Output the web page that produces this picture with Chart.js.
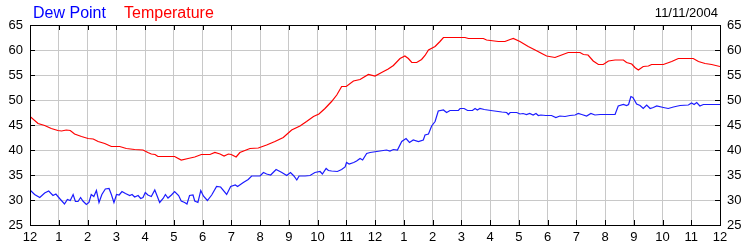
<!DOCTYPE html>
<html>
<head>
<meta charset="utf-8">
<script src="https://cdn.jsdelivr.net/npm/chart.js@4/dist/chart.umd.min.js"></script>
<style>
  body { margin: 0; background: #fff; }
  #wrap { width: 750px; height: 250px; }
</style>
</head>
<body>
<div id="wrap"><canvas id="chart" width="750" height="250"></canvas></div>
<script>
const title = "11/11/2004";
const seriesNames = ["Dew Point", "Temperature"];
const hourTicks = [12, 1, 2, 3, 4, 5, 6, 7, 8, 9, 10, 11, 12, 1, 2, 3, 4, 5, 6, 7, 8, 9, 10, 11, 12];

// temperature, hours since midnight
const tempHours = [0, 0.28, 0.51, 0.74, 0.97, 1.1, 1.26, 1.4, 1.55, 1.79, 2.02, 2.2, 2.37, 2.6, 2.83, 3.12, 3.35, 3.64, 3.93, 4.1,
  4.22, 4.35, 4.45, 5.03, 5.26, 5.5, 5.73, 5.96, 6.26, 6.43, 6.61, 6.75, 6.9, 7.0, 7.17, 7.3, 7.65, 7.94, 8.23, 8.52,
  8.81, 9.1, 9.39, 9.62, 9.86, 10.05, 10.26, 10.49, 10.67, 10.84, 11.0, 11.25, 11.48, 11.77, 12.0, 12.23, 12.46, 12.64, 12.87, 13.04,
  13.16, 13.28, 13.45, 13.62, 13.74, 13.86, 14.09, 14.26, 14.38, 15.13, 15.25, 15.77, 15.88, 16.29, 16.52, 16.7, 16.81, 17.04, 17.33, 17.57,
  17.8, 17.97, 18.26, 18.49, 18.72, 19.13, 19.25, 19.41, 19.59, 19.77, 19.94, 20.12, 20.35, 20.64, 20.75, 20.93, 21.04, 21.16, 21.33, 21.51,
  21.62, 22.03, 22.32, 22.55, 23.07, 23.25, 23.48, 23.71, 24.0];
const tempValues = [46.7, 45.3, 44.9, 44.3, 43.9, 43.8, 44.0, 43.9, 43.2, 42.7, 42.3, 42.2, 41.7, 41.3, 40.7, 40.7, 40.3, 40.1, 40.0, 39.5,
  39.2, 39.1, 38.7, 38.7, 38.0, 38.3, 38.6, 39.1, 39.1, 39.5, 39.2, 38.8, 39.2, 39.1, 38.6, 39.5, 40.3, 40.4, 41.0, 41.7,
  42.5, 44.0, 44.8, 45.7, 46.7, 47.2, 48.3, 49.7, 51.0, 52.7, 52.7, 53.8, 54.1, 55.1, 54.8, 55.5, 56.2, 56.9, 58.3, 58.8,
  58.3, 57.5, 57.5, 58.1, 58.9, 60.0, 60.7, 61.7, 62.5, 62.5, 62.3, 62.3, 62.0, 61.7, 61.7, 62.1, 62.3, 61.7, 60.7, 60.0,
  59.3, 58.8, 58.5, 59.0, 59.5, 59.5, 59.1, 59.0, 57.8, 57.1, 57.1, 57.8, 58.0, 58.0, 57.5, 57.2, 56.5, 56.0, 56.7, 56.8,
  57.1, 57.1, 57.7, 58.3, 58.3, 57.7, 57.3, 57.1, 56.7];

// dew point, hours since midnight
const dewHours = [0, 0.16, 0.34, 0.51, 0.65, 0.8, 0.9, 1.03, 1.2, 1.3, 1.4, 1.5, 1.58, 1.67, 1.76, 1.84, 1.96, 2.05, 2.13, 2.22,
  2.31, 2.4, 2.5, 2.62, 2.75, 2.83, 2.92, 3.01, 3.1, 3.2, 3.32, 3.47, 3.55, 3.64, 3.76, 3.85, 3.93, 4.01, 4.1, 4.22,
  4.34, 4.43, 4.51, 4.63, 4.71, 4.8, 4.92, 5.03, 5.17, 5.26, 5.38, 5.46, 5.55, 5.67, 5.73, 5.84, 5.94, 6.03, 6.17, 6.32,
  6.49, 6.63, 6.84, 6.98, 7.14, 7.22, 7.42, 7.59, 7.71, 8.0, 8.12, 8.23, 8.37, 8.56, 8.76, 8.93, 9.06, 9.18, 9.28, 9.36,
  9.57, 9.74, 9.91, 10.09, 10.17, 10.3, 10.38, 10.49, 10.69, 10.84, 10.96, 11.01, 11.1, 11.26, 11.36, 11.48, 11.57, 11.71, 11.83, 12.06,
  12.4, 12.52, 12.64, 12.78, 12.93, 13.08, 13.2, 13.33, 13.51, 13.68, 13.74, 13.86, 13.97, 14.09, 14.2, 14.38, 14.49, 14.61, 14.9, 14.96,
  15.1, 15.22, 15.39, 15.48, 15.56, 15.65, 15.8, 16.03, 16.41, 16.58, 16.64, 16.7, 16.93, 17.04, 17.15, 17.27, 17.38, 17.5, 17.6, 17.68,
  17.77, 17.94, 18.14, 18.29, 18.43, 18.61, 18.78, 18.96, 19.07, 19.19, 19.36, 19.51, 19.65, 19.83, 20.35, 20.46, 20.64, 20.75, 20.82, 20.9,
  20.97, 21.1, 21.22, 21.33, 21.45, 21.57, 21.68, 21.8, 22.03, 22.2, 22.38, 22.61, 22.9, 23.01, 23.1, 23.19, 23.3, 23.42, 24.0];
const dewValues = [32.0, 31.1, 30.5, 31.4, 31.8, 30.9, 31.2, 30.3, 29.2, 30.1, 29.9, 31.1, 29.7, 29.7, 30.5, 29.8, 29.1, 29.5, 31.1, 30.7,
  31.9, 29.5, 31.1, 32.2, 32.3, 31.1, 29.5, 31.1, 31.0, 31.7, 31.3, 30.9, 31.1, 30.6, 30.9, 30.3, 30.5, 31.5, 31.0, 30.7,
  32.0, 30.7, 29.5, 30.3, 31.1, 30.4, 31.0, 31.7, 30.9, 29.8, 29.5, 29.2, 30.9, 31.0, 29.8, 29.5, 31.9, 30.8, 29.9, 31.0,
  32.7, 32.6, 31.1, 32.7, 33.0, 32.7, 33.5, 34.1, 34.8, 34.8, 35.5, 35.2, 35.0, 36.1, 35.5, 34.9, 35.5, 34.8, 34.0, 34.8,
  34.8, 34.9, 35.5, 35.7, 35.2, 36.3, 35.9, 35.8, 35.7, 36.1, 36.6, 37.5, 37.2, 37.5, 37.8, 38.3, 38.0, 39.3, 39.5, 39.7,
  40.0, 39.8, 40.1, 40.0, 41.7, 42.3, 41.5, 42.0, 41.7, 42.0, 43.0, 43.2, 44.8, 45.7, 47.8, 48.0, 47.5, 47.9, 47.9, 48.3,
  48.3, 47.9, 47.9, 48.3, 48.0, 48.3, 48.1, 47.9, 47.6, 47.5, 47.1, 47.5, 47.5, 47.2, 47.3, 47.1, 47.3, 47.0, 47.3, 46.9,
  47.0, 46.9, 46.9, 46.5, 46.8, 46.7, 46.9, 47.0, 47.3, 47.1, 46.8, 47.3, 47.0, 47.1, 47.1, 48.8, 49.1, 48.9, 49.1, 50.7,
  50.5, 49.2, 48.9, 48.3, 49.0, 48.3, 48.5, 48.8, 48.5, 48.3, 48.6, 48.9, 49.0, 49.4, 49.1, 49.5, 48.8, 49.1, 49.1];

const FONT = "'Liberation Sans', Arial, sans-serif";

// frame + inward tick marks + header text
const framePlugin = {
  id: "frame",
  afterDraw(chart) {
    const { ctx, chartArea: a, scales } = chart;
    ctx.save();
    ctx.strokeStyle = "#000";
    ctx.lineWidth = 1;
    ctx.beginPath();
    scales.x.ticks.forEach((t) => {
      const px = Math.round(scales.x.getPixelForValue(t.value)) + 0.5;
      ctx.moveTo(px, a.top); ctx.lineTo(px, a.top + 5);
      ctx.moveTo(px, a.bottom); ctx.lineTo(px, a.bottom - 5);
    });
    scales.y.ticks.forEach((t) => {
      const py = Math.round(scales.y.getPixelForValue(t.value)) + 0.5;
      ctx.moveTo(a.left, py); ctx.lineTo(a.left + 5, py);
      ctx.moveTo(a.right, py); ctx.lineTo(a.right - 5, py);
    });
    ctx.stroke();
    ctx.strokeRect(Math.round(a.left) + 0.5, Math.round(a.top) + 0.5,
      Math.round(a.right - a.left), Math.round(a.bottom - a.top));

    ctx.textBaseline = "alphabetic";
    ctx.font = "16px " + FONT;
    ctx.textAlign = "left";
    ctx.fillStyle = "#0000ff";
    ctx.fillText(seriesNames[0], 33, 18);
    ctx.fillStyle = "#ff0000";
    ctx.fillText(seriesNames[1], 124, 18);
    ctx.font = "13px " + FONT;
    ctx.textAlign = "right";
    ctx.fillStyle = "#000";
    ctx.fillText(title, 718, 17);
    ctx.restore();
  },
};

const yTicks = { stepSize: 5, color: "#000", font: { family: FONT, size: 13 }, padding: 7 };

new Chart(document.getElementById("chart"), {
  type: "line",
  data: {
    datasets: [
      {
        label: seriesNames[1],
        data: tempHours.map((h, i) => ({ x: h, y: tempValues[i] })),
        borderColor: "#ff0000",
        borderWidth: 1.2,
        pointRadius: 0,
        tension: 0,
      },
      {
        label: seriesNames[0],
        data: dewHours.map((h, i) => ({ x: h, y: dewValues[i] })),
        borderColor: "#1c1cff",
        borderWidth: 1.2,
        pointRadius: 0,
        tension: 0,
      },
    ],
  },
  options: {
    responsive: false,
    animation: false,
    events: [],
    layout: { padding: { left: 8, right: 8, top: 25, bottom: 4 } },
    plugins: { legend: { display: false }, tooltip: { enabled: false } },
    scales: {
      x: {
        type: "linear",
        min: 0,
        max: 24,
        grid: { color: "#c8c8c8", drawTicks: false },
        border: { display: false },
        ticks: {
          stepSize: 1,
          autoSkip: false,
          maxRotation: 0,
          color: "#000",
          font: { family: FONT, size: 13 },
          padding: 5,
          callback: (v) => hourTicks[v],
        },
        afterFit: (s) => { s.height = 21; },
      },
      y: {
        position: "left",
        min: 25,
        max: 65,
        grid: { color: "#c8c8c8", drawTicks: false },
        border: { display: false },
        ticks: yTicks,
        afterFit: (s) => { s.width = 22; },
      },
      y2: {
        position: "right",
        min: 25,
        max: 65,
        grid: { display: false, drawTicks: false },
        border: { display: false },
        ticks: yTicks,
        afterFit: (s) => { s.width = 22; },
      },
    },
  },
  plugins: [framePlugin],
});
</script>
</body>
</html>
